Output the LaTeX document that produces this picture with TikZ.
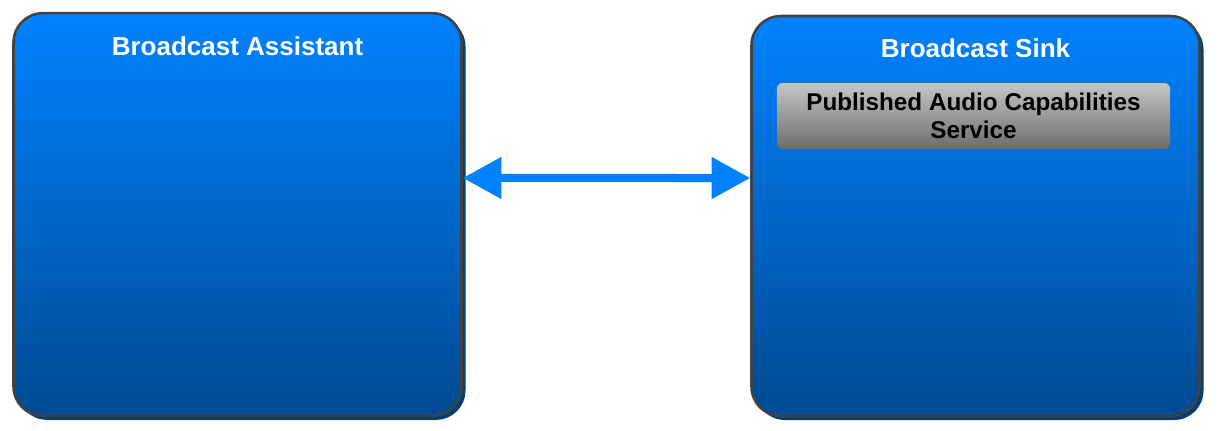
\documentclass[tikz,border=0pt]{standalone}
\usepackage{fontspec}
\setmainfont{Liberation Sans}
\usetikzlibrary{arrows.meta,positioning,shadows}
\definecolor{bluetop}{HTML}{0082FF}
\definecolor{bluebottom}{HTML}{004A92}
\definecolor{blueshadow}{HTML}{003F78}
\definecolor{frame}{HTML}{424242}
\definecolor{greytop}{HTML}{C6C6C6}
\definecolor{greybottom}{HTML}{6C6C6C}

\begin{document}
\begin{tikzpicture}[
    x=0.75pt, y=-0.75pt,
    every node/.style={font=\bfseries},
    device/.style={rectangle, rounded corners=22pt, draw=frame, line width=1.9pt,
        top color=bluetop, bottom color=bluebottom,
        drop shadow={shadow xshift=3pt, shadow yshift=-3pt, fill=blueshadow, opacity=1},
        minimum width=336pt, minimum height=302pt},
    title/.style={text=white, font=\fontsize{19.5}{23}\selectfont\bfseries},
    service/.style={rectangle, rounded corners=4.5pt, top color=greytop, bottom color=greybottom,
        minimum width=295pt, minimum height=49.5pt, align=center,
        font=\fontsize{18.2}{21}\selectfont\bfseries},
    link/.style={{Triangle[length=29pt, width=30pt]}-{Triangle[length=29pt, width=30pt]},
        line width=6pt, draw=bluetop},
]
\useasboundingbox (0,0) rectangle (1218,430);

% Broadcast Assistant
\node[device] (assist) at (237.5, 214.5) {};
\node[title] (assisttitle) at (237.5, 46) {Broadcast Assistant};

% Broadcast Sink
\node[device, minimum height=300pt] (sink) at (975.5, 216) {};
\node[title] (sinktitle) at (975.5, 48) {Broadcast Sink};
\node[service] (pacs) at (973.5, 116) {Published Audio Capabilities\\Service};

% Link
\draw[link] ([yshift=27.4pt]assist.east) -- ([yshift=28.5pt]sink.west);

\end{tikzpicture}
\end{document}
